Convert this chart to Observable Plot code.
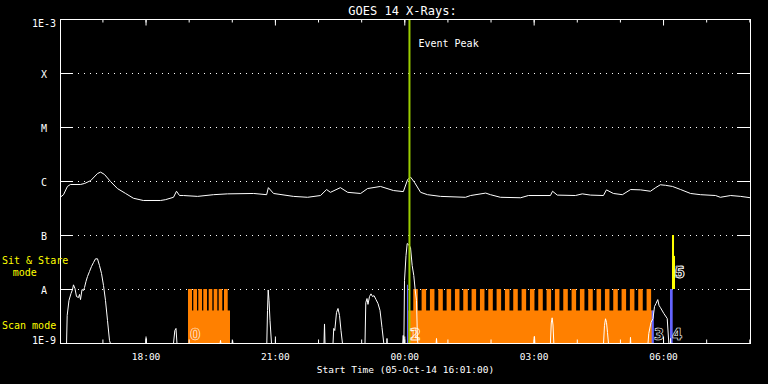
<!DOCTYPE html>
<html><head><meta charset="utf-8">
<script src="https://cdn.jsdelivr.net/npm/d3@7"></script>
<script src="https://cdn.jsdelivr.net/npm/@observablehq/plot@0.6"></script>
<style>
html,body{margin:0;padding:0;background:#000;}
</style></head><body><div id="chart"></div>
<script>
// ---- time frame ----
const startTime = "2014-10-05T16:01:00Z";
const endTime = "2014-10-06T08:01:00Z";
const eventPeakTime = "2014-10-06T00:06:30Z";

// ---- GOES long channel (hours after start, W/m^2) ----
const longHours = [0.02,0.07,0.16,0.23,0.46,0.56,0.70,0.86,0.93,1.02,1.16,1.32,1.51,1.69,1.92,2.32,2.43,2.62,2.69,2.76,2.85,3.18,3.55,3.87,4.48,4.78,4.82,4.94,5.40,5.73,6.03,6.17,6.26,6.49,6.66,6.96,7.12,7.42,7.72,7.95,8.05,8.12,8.21,8.35,8.51,8.81,9.39,9.51,9.86,9.97,10.20,10.67,10.85,11.36,11.41,11.52,11.94,12.10,12.29,12.59,12.66,12.82,13.03,13.22,13.45,13.68,13.80,13.91,14.03,14.19,14.38,14.61,14.84,15.19,15.30,15.54,15.77,16.0];
const longFlux = [5.3e-7,5.7e-7,8.1e-7,8.8e-7,8.8e-7,9.2e-7,1.04e-6,1.41e-6,1.49e-6,1.35e-6,1.0e-6,7.4e-7,6.0e-7,4.9e-7,4.45e-7,4.45e-7,4.6e-7,5.1e-7,6.6e-7,5.5e-7,5.5e-7,5.3e-7,5.7e-7,5.9e-7,6.0e-7,5.7e-7,7.7e-7,6.0e-7,5.3e-7,5.1e-7,5.5e-7,7.1e-7,6.3e-7,7.7e-7,6.3e-7,6.0e-7,7.4e-7,8.1e-7,6.8e-7,6.5e-7,1.09e-6,1.2e-6,9.6e-7,6.3e-7,5.7e-7,5.3e-7,5.1e-7,5.5e-7,6.1e-7,5.7e-7,5.1e-7,5.0e-7,5.5e-7,5.5e-7,6.6e-7,5.6e-7,5.5e-7,5.9e-7,5.6e-7,5.5e-7,7.0e-7,6.0e-7,5.7e-7,7.1e-7,7.0e-7,6.6e-7,7.7e-7,8.7e-7,8.5e-7,8.1e-7,7.1e-7,6.0e-7,5.7e-7,5.5e-7,5.1e-7,5.5e-7,5.3e-7,5.0e-7];

// ---- GOES short channel (hours after start, W/m^2; 1e-9 = floor) ----
const shortHours = [0,0.14,0.155,0.197,0.243,0.278,0.301,0.336,0.371,0.417,0.441,0.464,0.499,0.533,0.557,0.591,0.626,0.672,0.719,0.765,0.812,0.858,0.904,0.951,0.997,1.043,1.090,1.136,1.159,
  1.98,1.987,1.994,2.62,2.651,2.678,2.701,3.70,3.71,3.72,3.98,3.99,4.00,
  4.784,4.800,4.816,4.835,4.858,4.893,6.11,6.122,6.134,
  6.319,6.336,6.36,6.40,6.435,6.47,6.504,6.539,
  7.061,7.079,7.107,7.13,7.165,7.2,7.235,7.27,7.316,7.362,7.409,7.455,7.497,7.565,7.571,7.577,
  7.935,7.947,7.962,7.977,8.012,8.039,8.07,8.116,8.155,8.192,8.225,8.255,8.278,8.29,
  8.71,8.719,8.728,10.98,10.991,11.0,11.36,11.38,11.40,11.42,11.44,
  12.592,12.614,12.638,12.661,12.684,12.707,13.21,13.217,13.224,
  13.623,13.641,13.693,13.739,13.774,13.809,13.85,13.878,13.913,13.99,14.069,14.106,14.14,14.145,14.15,16.0];
const shortFlux = [1e-9,1e-9,3.3e-9,6.3e-9,8.4e-9,1.0e-8,1.22e-8,1.04e-8,7.4e-9,7.1e-9,8.1e-9,6.5e-9,1.0e-8,9.6e-9,1.09e-8,1.41e-8,1.74e-8,2.15e-8,2.67e-8,3.16e-8,3.7e-8,3.7e-8,2.78e-8,1.98e-8,1.19e-8,6.3e-9,2.67e-9,1.14e-9,1e-9,
  1e-9,1.24e-9,1e-9,1e-9,1.74e-9,1.9e-9,1e-9,1e-9,1.14e-9,1e-9,1e-9,1.14e-9,1e-9,
  1e-9,4.1e-9,9.8e-9,6.3e-9,2.67e-9,1e-9,1e-9,2.3e-9,1e-9,
  1e-9,1.9e-9,1.74e-9,3.75e-9,4.45e-9,3.3e-9,1.74e-9,1e-9,
  1e-9,5.7e-9,6.8e-9,5.3e-9,7.4e-9,8.3e-9,7.4e-9,7.7e-9,6.5e-9,5.5e-9,4.1e-9,1.98e-9,1e-9,1e-9,1.24e-9,1e-9,
  1e-9,1.41e-9,1e-9,1.47e-8,4.26e-8,7.1e-8,6.8e-8,6.0e-8,2.78e-8,1.82e-8,9.8e-9,6.3e-9,1.14e-9,1e-9,
  1e-9,1.24e-9,1e-9,1e-9,1.35e-9,1e-9,1e-9,2.4e-9,2.99e-9,2.2e-9,1e-9,
  1e-9,2.15e-9,2.87e-9,2.45e-9,1.6e-9,1e-9,1e-9,1.3e-9,1e-9,
  1e-9,1.53e-9,2.45e-9,2.9e-9,4.84e-9,5.5e-9,6.5e-9,5.1e-9,4.6e-9,3.6e-9,2.9e-9,1e-9,1e-9,1.24e-9,1e-9,1e-9];

// ---- IRIS observations (hours after start) ----
const modeFloor = 1e-9;
const scanBaseLevel = 4e-9;
const scanTopLevel = 1e-8;
const scanBlockStart = [2.968, 8.08];
const scanBlockEnd = [3.942, 13.744];
const rasterStart = [2.968,3.091,3.207,3.323,3.448,3.564,3.680,3.803,
  8.192,8.385,8.578,8.772,8.965,9.158,9.351,9.544,9.738,9.931,10.124,10.317,10.510,10.704,10.897,11.090,11.283,11.476,11.670,11.863,12.056,12.249,12.442,12.636,12.829,13.022,13.215,13.408,13.602];
const rasterEnd = [3.061,3.177,3.293,3.409,3.532,3.648,3.763,3.889,
  8.297,8.490,8.683,8.877,9.070,9.263,9.456,9.649,9.843,10.036,10.229,10.422,10.615,10.809,11.002,11.195,11.388,11.581,11.775,11.968,12.161,12.354,12.547,12.741,12.934,13.127,13.320,13.513,13.707];
const otherStart = [8.046, 13.72, 14.145];
const otherEnd = [8.07, 13.77, 14.207];
const otherLevel = [1.2e-8, 4e-9, 1e-8];
const sitStart = [14.191, 14.191];
const sitEnd = [14.238, 14.261];
const sitLevel = [1e-7, 4.1e-8];
const obsLabelHours = [2.968, 8.046, 8.08, 13.72, 14.145];
const obsLabels = ["0", "1", "2", "3", "4"];
const sitLabelHours = [14.191, 14.191];
const sitLabels = ["5", "6"];
const sitLabelLevel = 1.6e-8;

// ---- axes ----
const yLevels = [1e-9,1e-8,1e-7,1e-6,1e-5,1e-4,1e-3];
const yLabels = ["1E-9","A","B","C","M","X","1E-3"];
const gridLevels = [1e-8,1e-7,1e-6,1e-5,1e-4];
const xTickTimes = ["2014-10-05T18:00:00Z","2014-10-05T21:00:00Z","2014-10-06T00:00:00Z","2014-10-06T03:00:00Z","2014-10-06T06:00:00Z"];
const xTickLabels = ["18:00","21:00","00:00","03:00","06:00"];
const titleText = "GOES 14 X-Rays:";
const xTitle = "Start Time (05-Oct-14 16:01:00)";

// ---- build ----
const t0 = new Date(startTime);
const toDate = h => new Date(+t0 + h * 3600000);
const longData = longHours.map((h, i) => ({t: toDate(h), v: longFlux[i]}));
const shortData = shortHours.map((h, i) => ({t: toDate(h), v: shortFlux[i]}));
const blocks = scanBlockStart.map((s, i) => ({s: toDate(s), e: toDate(scanBlockEnd[i])}));
const rasters = rasterStart.map((s, i) => ({s: toDate(s), e: toDate(rasterEnd[i])}));
const others = otherStart.map((s, i) => ({s: toDate(s), e: toDate(otherEnd[i]), v: otherLevel[i]}));
const sits = sitStart.map((s, i) => ({s: toDate(s), e: toDate(sitEnd[i]), v: sitLevel[i]}));
const obsLab = obsLabelHours.map((h, i) => ({t: toDate(h), text: obsLabels[i]}));
const sitLab = sitLabelHours.map((h, i) => ({t: toDate(h), text: sitLabels[i]}));
const yLab = yLevels.map((v, i) => ({v, text: yLabels[i]}));
const xTicks = xTickTimes.map((t, i) => ({t: new Date(t), text: xTickLabels[i]}));
const hourTicks = d3.utcHour.range(new Date(startTime), new Date(endTime));

const mono = "DejaVu Sans Mono";
const W = "white";
const digitStyle = {fill: "none", stroke: W, strokeWidth: 0.6, fontFamily: "DejaVu Sans", fontWeight: "bold", fontSize: 15};

const chart = Plot.plot({
  width: 768, height: 384,
  marginLeft: 60, marginRight: 18, marginTop: 19, marginBottom: 41,
  style: {background: "black", color: "white", overflow: "visible"},
  x: {type: "utc", domain: [new Date(startTime), new Date(endTime)], axis: null},
  y: {type: "log", domain: [1e-9, 1e-3], axis: null},
  marks: [
    Plot.ruleY(gridLevels, {y: d => d, stroke: W, strokeDasharray: "1 5"}),
    Plot.rect(blocks, {x1: "s", x2: "e", y1: () => modeFloor, y2: () => scanBaseLevel, fill: "#ff8000"}),
    Plot.rect(rasters, {x1: "s", x2: "e", y1: () => modeFloor, y2: () => scanTopLevel, fill: "#ff8000"}),
    Plot.rect(others, {x1: "s", x2: "e", y1: () => modeFloor, y2: "v", fill: "#6464ff"}),
    Plot.rect(sits, {x1: "s", x2: "e", y1: () => scanTopLevel, y2: "v", fill: "#ffff00"}),
    Plot.line(shortData, {x: "t", y: "v", stroke: W, strokeWidth: 1, clip: true}),
    Plot.line(longData, {x: "t", y: "v", stroke: W, strokeWidth: 1, clip: true}),
    Plot.ruleX([new Date(eventPeakTime)], {x: d => d, stroke: "#9acd00", strokeWidth: 2}),
    Plot.frame({stroke: W}),
    // y ticks (inward, both sides)
    Plot.tickY(yLevels, {y: d => d, stroke: W, insetRight: 677}),
    Plot.tickY(yLevels, {y: d => d, stroke: W, insetLeft: 677}),
    // x ticks (inward, top and bottom)
    Plot.tickX(hourTicks, {x: d => d, stroke: W, insetBottom: 320.5}),
    Plot.tickX(hourTicks, {x: d => d, stroke: W, insetTop: 320.5}),
    Plot.tickX(xTicks, {x: "t", stroke: W, insetBottom: 317.5}),
    Plot.tickX(xTicks, {x: "t", stroke: W, insetTop: 317.5}),
    // y labels
    Plot.text(yLab.filter(d => d.v > 1e-9 && d.v < 1e-3), {y: "v", text: "text", frameAnchor: "left", dx: -16.5, dy: 1, textAnchor: "middle", fill: W, fontFamily: mono, fontSize: 10}),
    Plot.text(yLab.filter(d => d.v === 1e-3), {y: "v", text: "text", frameAnchor: "left", dx: -16.5, dy: 4, textAnchor: "middle", fill: W, fontFamily: mono, fontSize: 10}),
    Plot.text(yLab.filter(d => d.v === 1e-9), {y: "v", text: "text", frameAnchor: "left", dx: -16.5, dy: -3, textAnchor: "middle", fill: W, fontFamily: mono, fontSize: 10}),
    // x labels
    Plot.text(xTicks, {x: "t", text: "text", frameAnchor: "bottom", dy: 16, lineAnchor: "bottom", fill: W, fontFamily: mono, fontSize: 9.5}),
    Plot.text([xTitle], {text: d => d, frameAnchor: "bottom", dy: 29.5, lineAnchor: "bottom", fill: W, fontFamily: mono, fontSize: 9.5}),
    Plot.text([titleText], {text: d => d, frameAnchor: "top", dx: -3, dy: -5, lineAnchor: "bottom", fill: W, fontFamily: mono, fontSize: 12}),
    // mode labels
    Plot.text(["Sit & Stare"], {text: d => d, frameAnchor: "top-left", dx: -58.5, dy: 244.5, textAnchor: "start", lineAnchor: "bottom", fill: "#ffff00", fontFamily: mono, fontSize: 10}),
    Plot.text(["mode"], {text: d => d, frameAnchor: "top-left", dx: -35.7, dy: 256, textAnchor: "middle", lineAnchor: "bottom", fill: "#ffff00", fontFamily: mono, fontSize: 10}),
    Plot.text(["Scan mode"], {text: d => d, frameAnchor: "top-left", dx: -58.5, dy: 309.5, textAnchor: "start", lineAnchor: "bottom", fill: "#ffff00", fontFamily: mono, fontSize: 10}),
    // event peak
    Plot.text([new Date(eventPeakTime)], {x: d => d, text: () => "Event Peak", frameAnchor: "top", dx: 9, dy: 27.5, textAnchor: "start", lineAnchor: "bottom", fill: W, fontFamily: mono, fontSize: 10}),
    // observation numbers (hollow digits)
    Plot.text(obsLab, {x: "t", text: "text", frameAnchor: "bottom", dx: 1.5, dy: -3.5, textAnchor: "start", lineAnchor: "bottom", ...digitStyle}),
    Plot.text(sitLab, {x: "t", y: () => sitLabelLevel, text: "text", dx: 2, textAnchor: "start", lineAnchor: "bottom", ...digitStyle})
  ]
});
document.getElementById("chart").appendChild(chart);
</script>
</body></html>
